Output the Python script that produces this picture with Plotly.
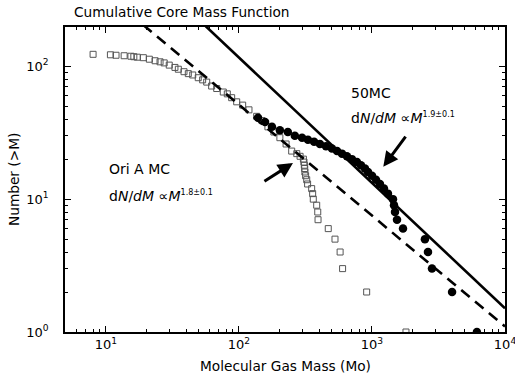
import numpy as np
import plotly.graph_objects as go

# ---------------- data ----------------
ori_mass = [8.0, 10.8, 11.9, 13.7, 15.4, 16.2, 17.2, 19.1, 21.2, 23.4,
            25.5, 27.4, 29.9, 33.0, 35.0, 38.6, 41.6, 44.9, 49.4, 53.3,
            57.2, 62.3, 68.0, 76.2, 81.7, 88.1, 96.1, 106.6, 118.9, 135.8,
            149, 165, 183, 203, 226, 249, 272, 288, 305, 308,
            310, 312, 313, 317, 323, 328, 352, 358, 362, 384,
            391, 393, 469, 527, 576, 601, 912, 1801]
ori_num = [123, 122, 121, 120, 119, 118, 117, 116, 113, 110,
           108, 106, 102, 98, 95, 91, 88, 86, 82, 79,
           76, 71, 68, 64, 62, 58, 54, 51, 47, 42,
           39, 35, 32, 29, 26, 23, 22, 21, 20, 19,
           18, 17, 16, 15, 14, 13, 12, 11, 10, 9,
           8, 7, 6, 5, 4, 3, 2, 1]

mc50_mass = [139, 157, 177, 203, 233, 263,
             298, 330, 367, 406, 451, 500, 546, 595, 648, 707,
             771, 826, 885, 933, 1000, 1072, 1148, 1231, 1319, 1438,
             1464, 1490, 1542, 1711, 2500, 2636, 2825, 3999, 6150]
mc50_num = [41, 38, 35, 33, 32, 30,
            29, 28, 27, 26, 25, 24, 23, 22, 21, 20,
            19, 18, 17, 16, 15, 14, 13, 12, 11, 10,
            9, 8, 7, 6, 5, 4, 3, 2, 1]

# power-law fit lines (end points)
fit_ori_mass = [15, 10000]
fit_ori_num = [250, 1.10]
fit_50_mass = [40, 10000]
fit_50_num = [276, 1.51]

# arrows: (tail mass, tail N) -> (tip mass, tip N)
arrow_ori = dict(tail=(151.4, 13.4), tip=(254.7, 18.7))
arrow_50 = dict(tail=(1824, 30.3), tip=(1216, 17.5))

x_tickvals = [10, 100, 1000, 10000]
x_ticktext = ["10<sup>1</sup>", "10<sup>2</sup>", "10<sup>3</sup>", "10<sup>4</sup>"]
y_tickvals = [1, 10, 100]
y_ticktext = ["10<sup>0</sup>", "10<sup>1</sup>", "10<sup>2</sup>"]

x_minor = [m * 10 ** e for e in range(0, 4) for m in range(2, 10) if 5 < m * 10 ** e < 10000]
y_minor = [m * 10 ** e for e in range(0, 3) for m in range(2, 10) if m * 10 ** e < 200]

FONT = "DejaVu Sans"

fig = go.Figure()
fig.add_trace(go.Scatter(x=ori_mass, y=ori_num, mode="markers",
                         marker=dict(symbol="square-open", size=6, color="#555555",
                                     line=dict(width=1, color="#555555")),
                         hoverinfo="skip"))
fig.add_trace(go.Scatter(x=fit_ori_mass, y=fit_ori_num, mode="lines",
                         line=dict(color="black", width=2.6, dash="11px,7px"),
                         hoverinfo="skip"))
fig.add_trace(go.Scatter(x=fit_50_mass, y=fit_50_num, mode="lines",
                         line=dict(color="black", width=2.6),
                         hoverinfo="skip"))
fig.add_trace(go.Scatter(x=mc50_mass, y=mc50_num, mode="markers",
                         marker=dict(symbol="circle", size=8.5, color="black"),
                         hoverinfo="skip"))

axis_common = dict(type="log", showline=True, linecolor="black", linewidth=1.5,
                   mirror="ticks", ticks="inside", ticklen=6, tickwidth=1.3,
                   tickcolor="black", showgrid=False, zeroline=False, automargin=False,
                   ticklabeloverflow="allow",
                   tickmode="array", tickfont=dict(family=FONT, size=13, color="black"))

fig.update_xaxes(**axis_common, range=[0.692, 4.0], tickvals=x_tickvals, ticktext=x_ticktext,
                 minor=dict(ticks="inside", ticklen=3.5, tickwidth=1.2, tickcolor="black",
                            tickmode="array", tickvals=x_minor, showgrid=False))
fig.update_yaxes(**axis_common, range=[0, 2.2955], tickvals=y_tickvals, ticktext=y_ticktext,
                 ticklabelstandoff=12,
                 minor=dict(ticks="inside", ticklen=3.5, tickwidth=1.2, tickcolor="black",
                            tickmode="array", tickvals=y_minor, showgrid=False))

W, H = 515, 376
L, R, T, B = 65, 10, 27, 44
pw, ph = W - L - R, H - T - B


def px(x):
    return (x - L) / pw


def py(y):
    return (H - B - y) / ph


ann = []
ann.append(dict(text="Cumulative Core Mass Function", x=px(72), y=py(12.5), xref="paper", yref="paper",
                xanchor="left", yanchor="middle", showarrow=False,
                font=dict(family=FONT, size=13.7, color="black")))
ann.append(dict(text="Molecular Gas Mass (Mo)", x=0.5, y=py(366), xref="paper", yref="paper",
                xanchor="center", yanchor="middle", showarrow=False,
                font=dict(family=FONT, size=13.7, color="black")))
ann.append(dict(text="Number (&gt;M)", x=px(14), y=py(180), xref="paper", yref="paper",
                xanchor="center", yanchor="middle", showarrow=False, textangle=-90,
                font=dict(family=FONT, size=13.7, color="black")))
sup_style = '<span style="font-size:8px">%s</span>'
ann.append(dict(text="50MC", x=px(349), y=py(93), xref="paper", yref="paper",
                xanchor="left", yanchor="middle", showarrow=False,
                font=dict(family=FONT, size=14, color="black")))
ann.append(dict(text="d<i>N</i>/<i>dM</i> \u221d<i>M</i><sup>" + sup_style % "1.9\u00b10.1" + "</sup>",
                x=px(349), y=py(118), xref="paper", yref="paper",
                xanchor="left", yanchor="middle", showarrow=False,
                font=dict(family=FONT, size=14, color="black")))
ann.append(dict(text="Ori A MC", x=px(107), y=py(169), xref="paper", yref="paper",
                xanchor="left", yanchor="middle", showarrow=False,
                font=dict(family=FONT, size=14, color="black")))
ann.append(dict(text="d<i>N</i>/<i>dM</i> \u221d<i>M</i><sup>" + sup_style % "1.8\u00b10.1" + "</sup>",
                x=px(107), y=py(196), xref="paper", yref="paper",
                xanchor="left", yanchor="middle", showarrow=False,
                font=dict(family=FONT, size=14, color="black")))
for a in (arrow_ori, arrow_50):
    ann.append(dict(text="", x=np.log10(a["tip"][0]), y=np.log10(a["tip"][1]),
                    ax=np.log10(a["tail"][0]), ay=np.log10(a["tail"][1]),
                    xref="x", yref="y", axref="x", ayref="y",
                    showarrow=True, arrowhead=2, arrowsize=1, arrowwidth=3,
                    arrowcolor="black", standoff=0, startstandoff=0))

fig.update_layout(width=W, height=H, margin=dict(l=L, r=R, t=T, b=B, pad=0, autoexpand=False),
                  paper_bgcolor="white", plot_bgcolor="white", showlegend=False,
                  annotations=ann, font=dict(family=FONT, color="black"))

fig.write_html("out.html")
